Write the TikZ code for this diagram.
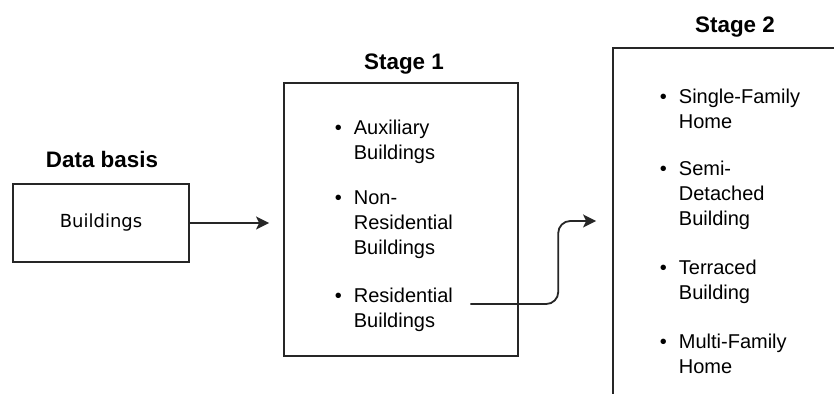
\documentclass[tikz,border=0pt]{standalone}
\usepackage{fontspec}
\setmainfont{Liberation Sans}
\newfontfamily\dvfont{DejaVu Sans}
\usetikzlibrary{arrows.meta}
\newcommand{\stgbullet}[1]{\textbullet\hspace{6pt}\begin{tabular}[t]{@{}l@{}}#1\end{tabular}}

\begin{document}
\begin{tikzpicture}[
   x=0.5pt,y=-0.5pt,
   stgbox/.style={draw=black!85,line width=0.9pt,inner sep=0pt},
   stgtitle/.style={anchor=base,inner sep=0pt,
     font=\fontsize{11.2}{13}\selectfont\bfseries},
   stgitem/.style={anchor=base west,inner sep=0pt,
     font=\fontsize{10}{12.5}\selectfont},
   stgarrow/.style={-{Stealth[length=6.5pt,width=6.5pt,inset=1.5pt]},
     line width=0.9pt,draw=black!85}
 ]
 \useasboundingbox (0,0) rectangle (834,394);
 % Stage 2 box runs off the right and bottom edge of the page
 \node[stgbox,minimum width=88pt,minimum height=39pt,
   font=\dvfont\fontsize{9}{11}\selectfont] (db) at (101,223) {Buildings};
 \node[stgbox,minimum width=117pt,minimum height=136.5pt] (s1) at (401,219.5) {};
 \node[stgbox,minimum width=122pt,minimum height=176pt] (s2) at (735,224) {};

 \node[stgtitle] (dbtitle) at (102,168) {Data basis};
 \node[stgtitle] (s1title) at (404,70) {Stage 1};
 \node[stgtitle] (s2title) at (735,33) {Stage 2};

 \node[stgitem] (aux) at (334.5,135) {\stgbullet{Auxiliary\\Buildings}};
 \node[stgitem] (nonres) at (334.5,205) {\stgbullet{Non-\\Residential\\Buildings}};
 \node[stgitem] (res) at (334.5,303) {\stgbullet{Residential\\Buildings}};

 \node[stgitem] (sfh) at (659.5,104) {\stgbullet{Single-Family\\Home}};
 \node[stgitem] (sdb) at (659.5,176) {\stgbullet{Semi-\\Detached\\Building}};
 \node[stgitem] (tb) at (659.5,275) {\stgbullet{Terraced\\Building}};
 \node[stgitem] (mfh) at (659.5,349) {\stgbullet{Multi-Family\\Home}};

 \coordinate (resout) at ([xshift=8.5pt,yshift=-0.5pt]res.base east);
 \draw[stgarrow,shorten >=7pt] (db.east) -- (db.east -| s1.west);
 \draw[stgarrow,rounded corners=6pt,shorten >=8pt]
   (resout) -- ([xshift=44pt]resout) |- ([yshift=1.5pt]s2.west);
\end{tikzpicture}
\end{document}
